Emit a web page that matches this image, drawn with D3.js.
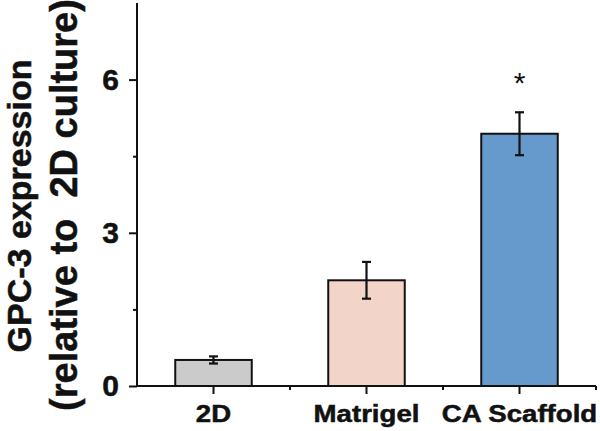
<!DOCTYPE html>
<html>
<head>
<meta charset="utf-8">
<script src="https://cdn.jsdelivr.net/npm/d3@7"></script>
<style>
  html, body { margin: 0; padding: 0; background: #fff; }
  svg { display: block; font-family: "Liberation Sans", Arial, Helvetica, sans-serif; }
</style>
</head>
<body>
<svg id="chart" width="600" height="431"></svg>
<script>
// ---- data ----
const categories = ["2D", "Matrigel", "CA Scaffold"];
const means = [0.51, 2.07, 4.94];
const errors = [0.07, 0.36, 0.42];
const colors = ["#cbcbcb", "#f2d5c8", "#6699cc"];
const majorTicks = [0, 3, 6];
const minorTicks = [1.5, 4.5];
const significance = ["", "", "*"];
const yTitleLines = ["GPC-3 expression", "(relative to\u00a0 2D culture)"];

(function () {
// ---- layout ----
const mLeft = 137, mRight = 596, mTop = 3, mBottom = 386;
const svg = d3.select("#chart");

const x = d3.scaleBand().domain(categories).range([mLeft, mRight])
  .paddingInner(0.5).paddingOuter(0.25);
const y = d3.scaleLinear().domain([0, 7.5]).range([mBottom, mTop]);

const data = categories.map((c, i) => ({ c, m: means[i], e: errors[i], col: colors[i], s: significance[i] }));

// bars
svg.append("g").selectAll("rect").data(data).join("rect")
  .attr("x", d => x(d.c))
  .attr("y", d => y(d.m))
  .attr("width", x.bandwidth())
  .attr("height", d => y(0) - y(d.m))
  .attr("fill", d => d.col)
  .attr("stroke", "#111")
  .attr("stroke-width", 2);

// error bars
const eb = svg.append("g").attr("stroke", "#111").attr("stroke-width", 2.2);
const cap = 4.5;
data.forEach(d => {
  const cx = x(d.c) + x.bandwidth() / 2;
  eb.append("line").attr("x1", cx).attr("x2", cx).attr("y1", y(d.m + d.e)).attr("y2", y(d.m - d.e));
  eb.append("line").attr("x1", cx - cap).attr("x2", cx + cap).attr("y1", y(d.m + d.e)).attr("y2", y(d.m + d.e));
  eb.append("line").attr("x1", cx - cap).attr("x2", cx + cap).attr("y1", y(d.m - d.e)).attr("y2", y(d.m - d.e));
});

// significance marks
svg.append("g").selectAll("text").data(data.filter(d => d.s)).join("text")
  .attr("x", d => x(d.c) + x.bandwidth() / 2)
  .attr("y", d => y(d.m + d.e) - 19)
  .attr("text-anchor", "middle")
  .attr("font-size", 30)
  .attr("fill", "#111")
  .text(d => d.s);

const txtStroke = sel => sel.attr("stroke", "#111").attr("stroke-width", 0.5);

// y axis
const yAxis = svg.append("g").attr("transform", `translate(${mLeft},0)`)
  .call(d3.axisLeft(y).tickValues(majorTicks).tickSize(8).tickPadding(10).tickSizeOuter(0));
yAxis.select(".domain").remove();
yAxis.selectAll(".tick line").attr("stroke", "#111").attr("stroke-width", 2);
yAxis.selectAll(".tick text").attr("font-size", 30).attr("font-weight", "bold").attr("fill", "#111")
  .attr("font-family", "'Liberation Sans', Arial, sans-serif").call(txtStroke);
const yMinor = svg.append("g").attr("transform", `translate(${mLeft},0)`)
  .call(d3.axisLeft(y).tickValues(minorTicks).tickSize(4).tickFormat(""));
yMinor.select(".domain").remove();
yMinor.selectAll(".tick line").attr("stroke", "#111").attr("stroke-width", 2);
svg.append("line").attr("x1", mLeft).attr("x2", mLeft).attr("y1", y.range()[1]).attr("y2", y(0) + 1)
  .attr("stroke", "#111").attr("stroke-width", 2);

// x axis
const xAxis = svg.append("g").attr("transform", `translate(0,${mBottom})`)
  .call(d3.axisBottom(x).tickSize(8).tickSizeOuter(0).tickFormat(""));
xAxis.select(".domain").remove();
xAxis.selectAll(".tick line").attr("stroke", "#111").attr("stroke-width", 2);
const bounds = categories.map(c => x(c) + x.bandwidth() / 2 + x.step() / 2);
svg.append("g").selectAll("line").data(bounds).join("line")
  .attr("x1", d => d).attr("x2", d => d).attr("y1", mBottom).attr("y2", mBottom + 4)
  .attr("stroke", "#111").attr("stroke-width", 2);
svg.append("line").attr("x1", mLeft - 1).attr("x2", mRight).attr("y1", mBottom).attr("y2", mBottom)
  .attr("stroke", "#111").attr("stroke-width", 2);

// x labels (wide glyphs)
svg.append("g").selectAll("text").data(categories).join("text")
  .attr("transform", c => `translate(${x(c) + x.bandwidth() / 2},422) scale(1.2,1)`)
  .attr("text-anchor", "middle")
  .attr("font-size", 23)
  .attr("font-weight", "bold")
  .attr("fill", "#111")
  .call(txtStroke)
  .text(c => c);

// y title
svg.append("text")
  .attr("transform", `translate(31,206) rotate(-90)`)
  .attr("text-anchor", "middle")
  .attr("font-size", 34)
  .attr("font-weight", "bold")
  .attr("fill", "#111")
  .call(txtStroke)
  .text(yTitleLines[0]);
svg.append("text")
  .attr("transform", `translate(77,205) rotate(-90)`)
  .attr("text-anchor", "middle")
  .attr("font-size", 38)
  .attr("font-weight", "bold")
  .attr("fill", "#111")
  .call(txtStroke)
  .text(yTitleLines[1]);
})();
</script>
</body>
</html>
